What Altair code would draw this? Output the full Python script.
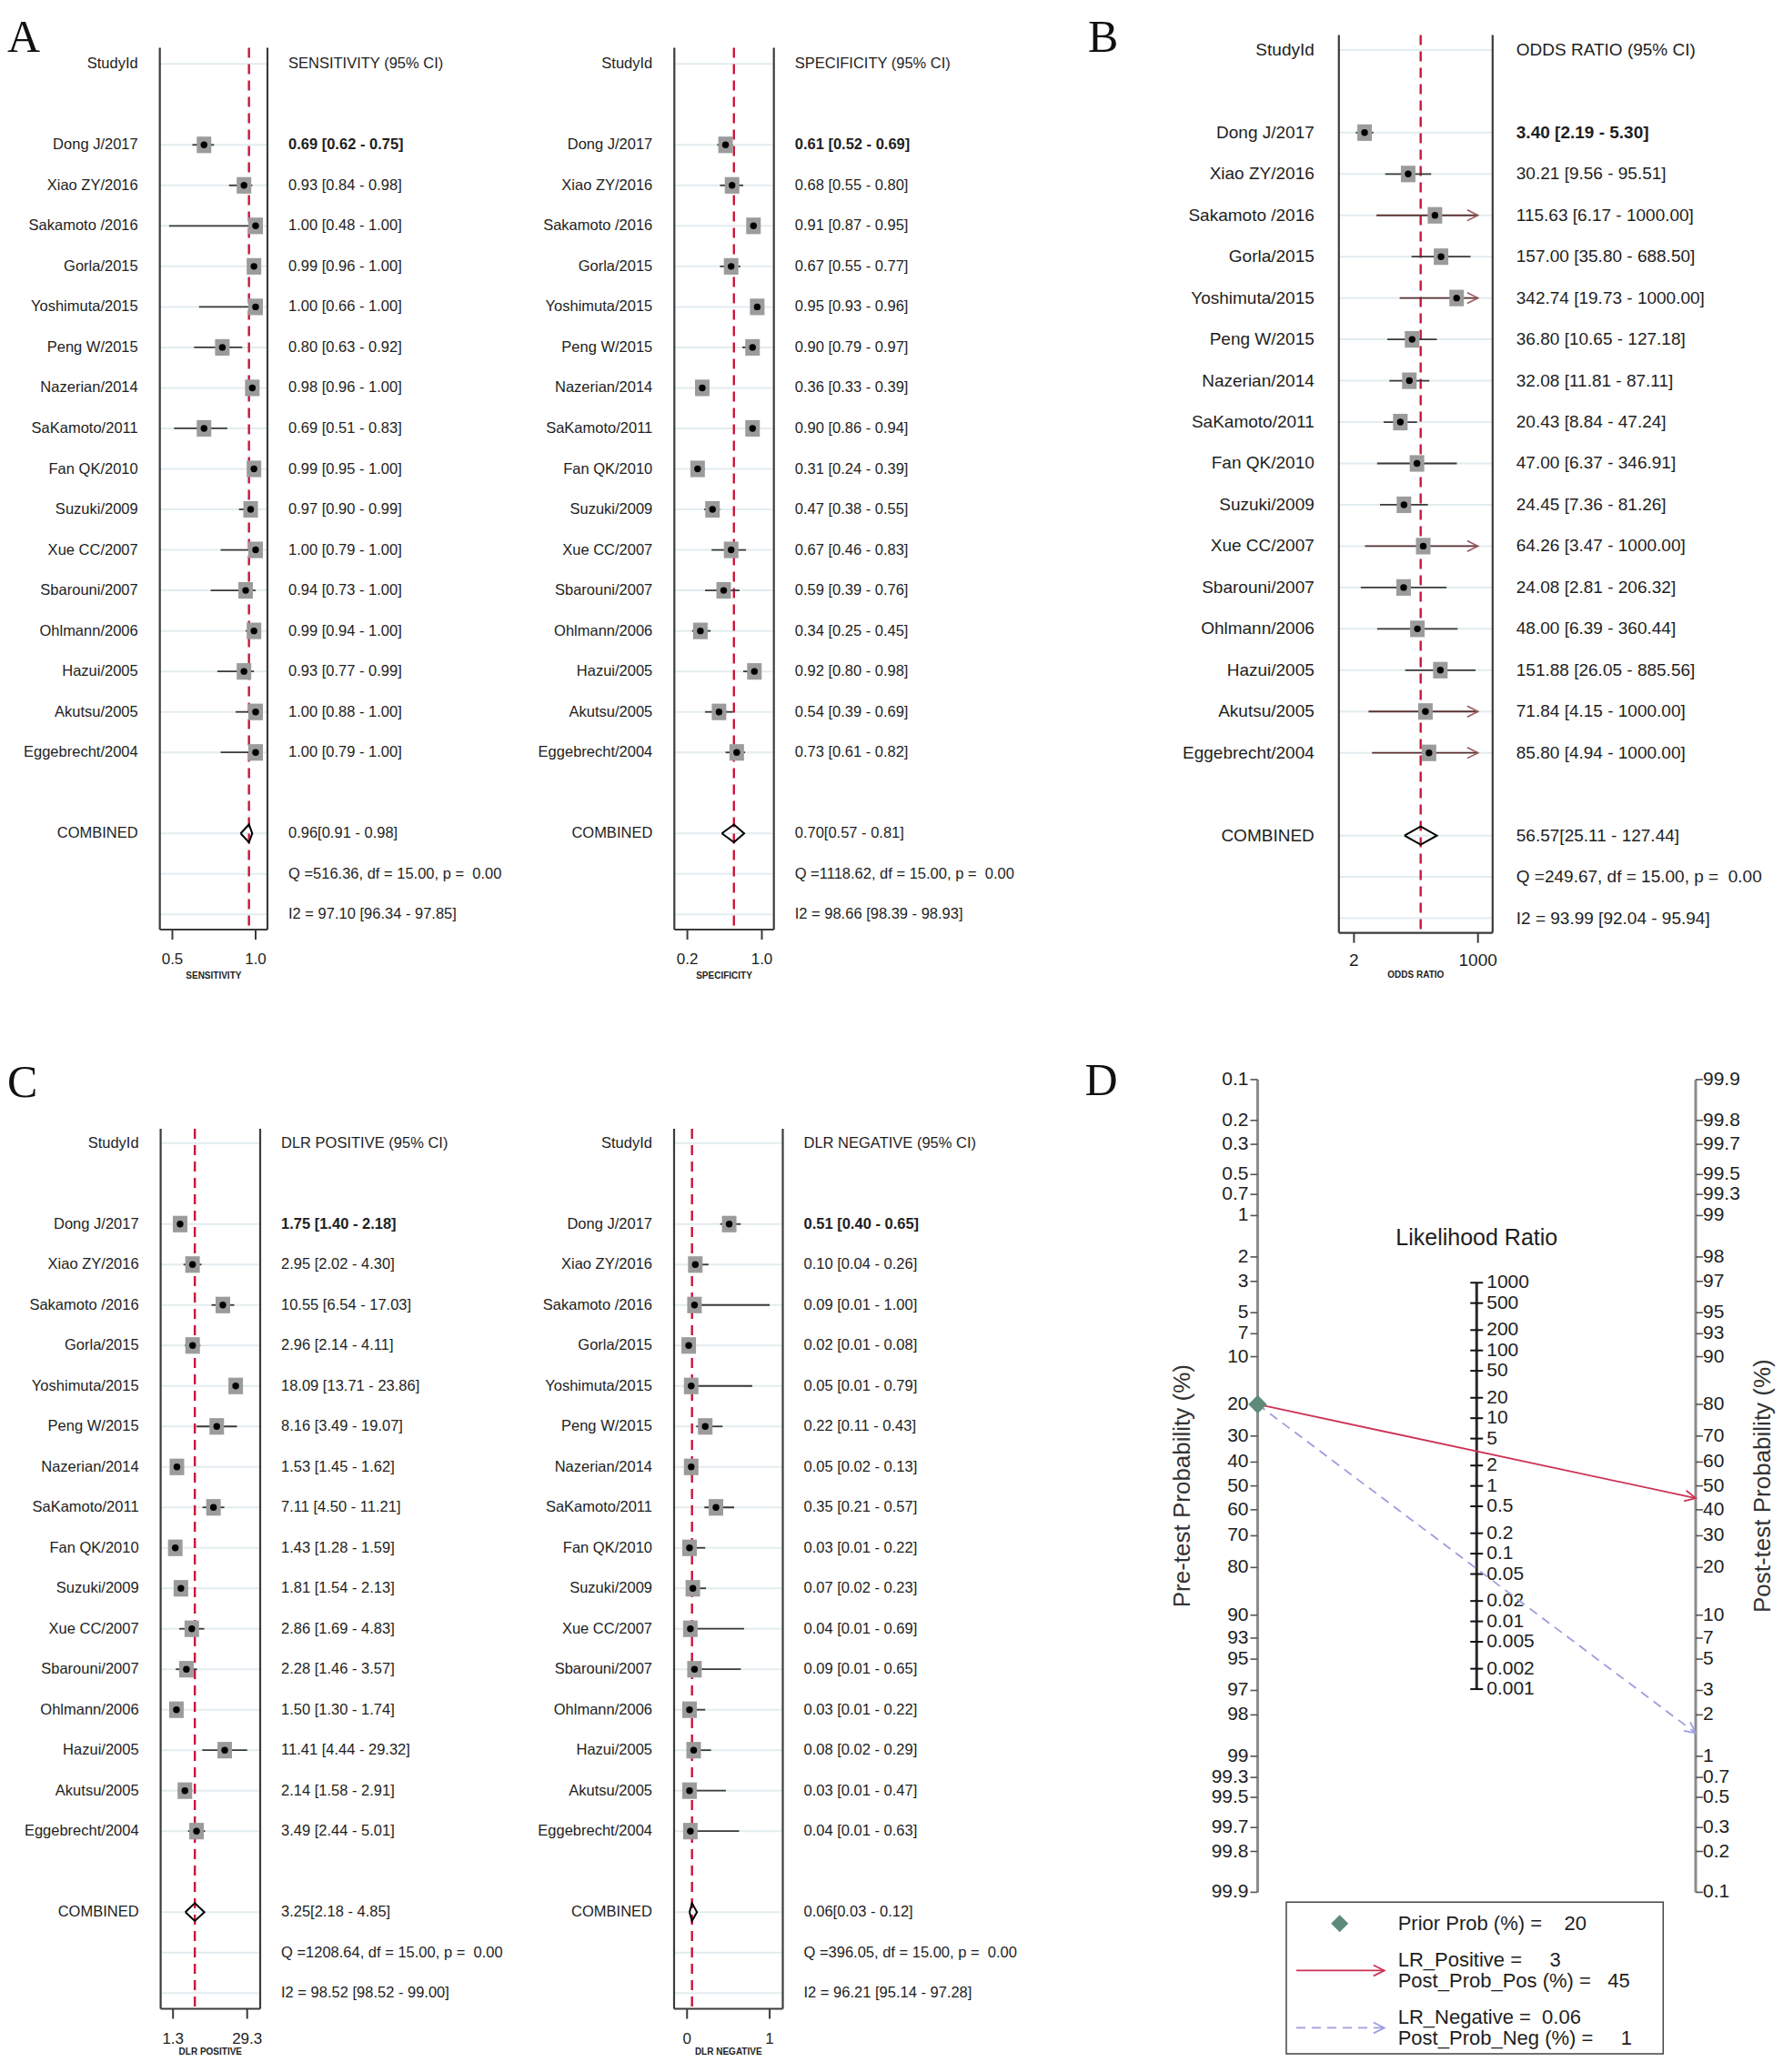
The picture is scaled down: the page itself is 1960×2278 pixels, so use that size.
import math
import re
import altair as alt
import pandas as pd

# ------------------------------------------------------------------ data
studies = ["Dong J/2017", "Xiao ZY/2016", "Sakamoto /2016", "Gorla/2015", "Yoshimuta/2015",
           "Peng W/2015", "Nazerian/2014", "SaKamoto/2011", "Fan QK/2010", "Suzuki/2009",
           "Xue CC/2007", "Sbarouni/2007", "Ohlmann/2006", "Hazui/2005", "Akutsu/2005",
           "Eggebrecht/2004"]

sens_est = [0.69, 0.93, 1.00, 0.99, 1.00, 0.80, 0.98, 0.69, 0.99, 0.97, 1.00, 0.94, 0.99, 0.93, 1.00, 1.00]
sens_lo = [0.62, 0.84, 0.48, 0.96, 0.66, 0.63, 0.96, 0.51, 0.95, 0.90, 0.79, 0.73, 0.94, 0.77, 0.88, 0.79]
sens_hi = [0.75, 0.98, 1.00, 1.00, 1.00, 0.92, 1.00, 0.83, 1.00, 0.99, 1.00, 1.00, 1.00, 0.99, 1.00, 1.00]
sens_pooled = [0.96, 0.91, 0.98]
sens_q = 516.36
sens_i2 = [97.10, 96.34, 97.85]
sens_ticks = [0.5, 1.0]

spec_est = [0.61, 0.68, 0.91, 0.67, 0.95, 0.90, 0.36, 0.90, 0.31, 0.47, 0.67, 0.59, 0.34, 0.92, 0.54, 0.73]
spec_lo = [0.52, 0.55, 0.87, 0.55, 0.93, 0.79, 0.33, 0.86, 0.24, 0.38, 0.46, 0.39, 0.25, 0.80, 0.39, 0.61]
spec_hi = [0.69, 0.80, 0.95, 0.77, 0.96, 0.97, 0.39, 0.94, 0.39, 0.55, 0.83, 0.76, 0.45, 0.98, 0.69, 0.82]
spec_pooled = [0.70, 0.57, 0.81]
spec_q = 1118.62
spec_i2 = [98.66, 98.39, 98.93]
spec_ticks = [0.2, 1.0]

or_est = [3.40, 30.21, 115.63, 157.00, 342.74, 36.80, 32.08, 20.43, 47.00, 24.45, 64.26, 24.08, 48.00, 151.88, 71.84, 85.80]
or_lo = [2.19, 9.56, 6.17, 35.80, 19.73, 10.65, 11.81, 8.84, 6.37, 7.36, 3.47, 2.81, 6.39, 26.05, 4.15, 4.94]
or_hi = [5.30, 95.51, 1000.00, 688.50, 1000.00, 127.18, 87.11, 47.24, 346.91, 81.26, 1000.00, 206.32, 360.44, 885.56, 1000.00, 1000.00]
or_pooled = [56.57, 25.11, 127.44]
or_q = 249.67
or_i2 = [93.99, 92.04, 95.94]
or_cap = 1000.0
or_ticks = [2, 1000]

plr_est = [1.75, 2.95, 10.55, 2.96, 18.09, 8.16, 1.53, 7.11, 1.43, 1.81, 2.86, 2.28, 1.50, 11.41, 2.14, 3.49]
plr_lo = [1.40, 2.02, 6.54, 2.14, 13.71, 3.49, 1.45, 4.50, 1.28, 1.54, 1.69, 1.46, 1.30, 4.44, 1.58, 2.44]
plr_hi = [2.18, 4.30, 17.03, 4.11, 23.86, 19.07, 1.62, 11.21, 1.59, 2.13, 4.83, 3.57, 1.74, 29.32, 2.91, 5.01]
plr_pooled = [3.25, 2.18, 4.85]
plr_q = 1208.64
plr_i2 = [98.52, 98.52, 99.00]
plr_ticks = [1.3, 29.3]

nlr_est = [0.51, 0.10, 0.09, 0.02, 0.05, 0.22, 0.05, 0.35, 0.03, 0.07, 0.04, 0.09, 0.03, 0.08, 0.03, 0.04]
nlr_lo = [0.40, 0.04, 0.01, 0.01, 0.01, 0.11, 0.02, 0.21, 0.01, 0.02, 0.01, 0.01, 0.01, 0.02, 0.01, 0.01]
nlr_hi = [0.65, 0.26, 1.00, 0.08, 0.79, 0.43, 0.13, 0.57, 0.22, 0.23, 0.69, 0.65, 0.22, 0.29, 0.47, 0.63]
nlr_pooled = [0.06, 0.03, 0.12]
nlr_q = 396.05
nlr_i2 = [96.21, 95.14, 97.28]
nlr_ticks = [0, 1]

het_df = 15.00
het_p = 0.00

pre_ticks = [0.1, 0.2, 0.3, 0.5, 0.7, 1, 2, 3, 5, 7, 10, 20, 30, 40, 50, 60, 70, 80, 90, 93, 95,
             97, 98, 99, 99.3, 99.5, 99.7, 99.8, 99.9]
post_ticks = [0.1, 0.2, 0.3, 0.5, 0.7, 1, 2, 3, 5, 7, 10, 20, 30, 40, 50, 60, 70, 80, 90, 93, 95,
              97, 98, 99, 99.3, 99.5, 99.7, 99.8, 99.9]
lr_ticks = [1000, 500, 200, 100, 50, 20, 10, 5, 2, 1, 0.5, 0.2, 0.1, 0.05, 0.02, 0.01, 0.005, 0.002, 0.001]
prior_prob = 20
lr_positive = plr_pooled[0]
lr_negative = nlr_pooled[0]

# ------------------------------------------------------------------ style / layout
W, H = 1944, 2254
OFF = 8          # page margin
R2 = 12          # second row moved up a little so that everything fits

FONT_R = "Liberation Sans, Arial, sans-serif"
FONT_S = "Liberation Serif, Times New Roman, serif"
TXT = "#1e1e1e"
GRID = "#e2ecef"
BOX = "#3c3c3c"
CI = "#3a3a3a"
SQ = "#9b9b9b"
RED = "#c8173c"
MAROON = "#5a3333"
ARROWC = "#9a5a5a"
RED_D = "#cc3355"
PURPLE = "#9d9de0"
TEAL = "#5e8b79"
SQ_PATH = "M-0.88,-1H0.88V1H-0.88Z"
CHEV = "M-1,-0.5L0,0L-1,0.5"


def nb(s):
    return re.sub(r" (?= )", "\u00a0", s)


def ci_text(e, l, h, sep=" "):
    return f"{e:.2f}{sep}[{l:.2f} - {h:.2f}]"


def build_table(est, lo, hi, pooled, q, i2, head):
    rows = [dict(k=0, label="StudyId", val=head, kind="head")]
    for i, s in enumerate(studies):
        rows.append(dict(k=i + 2, label=s, val=ci_text(est[i], lo[i], hi[i]), kind="study",
                         est=est[i], lo=lo[i], hi=hi[i]))
    kc = len(studies) + 3
    rows.append(dict(k=kc, label="COMBINED", val="\u00a0" + ci_text(*pooled, sep=""), kind="comb"))
    rows.append(dict(k=kc + 1, label="", val=nb(f"Q ={q:.2f}, df = {het_df:.2f}, p =  {het_p:.2f}"), kind="stat"))
    rows.append(dict(k=kc + 2, label="", val=f"I2 = {i2[0]:.2f} [{i2[1]:.2f} - {i2[2]:.2f}]", kind="stat"))
    return pd.DataFrame(rows), kc


def forest(est, lo, hi, pooled, q, i2, head, ticks, L, arrows=False):
    tab, kc = build_table(est, lo, hi, pooled, q, i2, head)
    x0, x1 = L["xdom"]
    k0, k1 = L["ydom"]
    xs = alt.Scale(type=L["stype"], domain=[x0, x1], range=[L["xr"][0] - OFF, L["xr"][1] - OFF],
                   nice=False, **({} if L["stype"] == "log" else {"zero": False}))
    ys = alt.Scale(domain=[k0, k1], range=[L["yr"][0] - OFF, L["yr"][1] - OFF], nice=False, zero=False)

    def XD(v):
        return alt.XDatum(v, type="quantitative", scale=xs, axis=None)

    def YD(v):
        return alt.YDatum(v, type="quantitative", scale=ys, axis=None)

    Yk = alt.Y("k:Q", scale=ys, axis=None)
    base = alt.Chart(tab)
    layers = []
    # faint row lines
    layers.append(base.mark_rule(color=GRID, strokeWidth=2).encode(x=XD(x0), x2=alt.X2Datum(x1), y=Yk))
    # box sides and bottom (axis line)
    layers.append(alt.Chart(pd.DataFrame({"e": [x0, x1]})).mark_rule(color=BOX, strokeWidth=2.2).encode(
        x=alt.X("e:Q", scale=xs, axis=None), y=YD(k0), y2=alt.Y2Datum(k1)))
    layers.append(alt.Chart(pd.DataFrame({"e": [k1]})).mark_rule(color=BOX, strokeWidth=2.2).encode(
        x=XD(x0), x2=alt.X2Datum(x1), y=alt.Y("e:Q", scale=ys, axis=None)))
    # axis ticks, tick labels and axis title
    tdf = pd.DataFrame({"t": ticks, "lab": [format(v, L["fmt"]) for v in ticks]})
    layers.append(alt.Chart(tdf).mark_rule(color=BOX, strokeWidth=2, y2Offset=11).encode(
        x=alt.X("t:Q", scale=xs, axis=None), y=YD(k1), y2=alt.Y2Datum(k1)))
    layers.append(alt.Chart(tdf).mark_text(font=FONT_R, fontSize=L["afs"], color=TXT, baseline="middle",
                                           align="center", dy=L["ldy"]).encode(
        x=alt.X("t:Q", scale=xs, axis=None), y=YD(k1), text="lab:N"))
    xmid = math.sqrt(x0 * x1) if L["stype"] == "log" else (x0 + x1) / 2
    layers.append(alt.Chart(pd.DataFrame({"t": [L["title"]]})).mark_text(
        font=FONT_R, fontSize=L["tfs"], fontWeight="bold", color=TXT, baseline="middle", align="center",
        dy=L["tdy"]).encode(x=XD(xmid), y=YD(k1), text="t:N"))
    # pooled estimate line
    layers.append(alt.Chart(pd.DataFrame({"p": [pooled[0]]})).mark_rule(
        color=RED, strokeWidth=2.4, strokeDash=[11, 7]).encode(
        x=alt.X("p:Q", scale=xs, axis=None), y=YD(k0), y2=alt.Y2Datum(k1)))
    st = base.transform_filter("datum.kind == 'study'")
    if arrows:
        ccol = alt.when(f"datum.hi >= {or_cap}").then(alt.value(MAROON)).otherwise(alt.value(CI))
    else:
        ccol = alt.value(CI)
    layers.append(st.mark_rule(strokeWidth=1.8).encode(
        x=alt.X("lo:Q", scale=xs, axis=None), x2="hi:Q", y=Yk, color=ccol))
    layers.append(st.mark_point(shape=SQ_PATH, filled=True, color=SQ, size=L["sq"], opacity=1).encode(
        x=alt.X("est:Q", scale=xs, axis=None), y=Yk))
    layers.append(st.mark_circle(color="black", size=55, opacity=1).encode(
        x=alt.X("est:Q", scale=xs, axis=None), y=Yk))
    if arrows:
        layers.append(st.transform_filter(f"datum.hi >= {or_cap}").mark_point(
            shape=CHEV, filled=False, color=ARROWC, strokeWidth=1.6, size=560, opacity=1).encode(
            x=alt.X("hi:Q", scale=xs, axis=None), y=Yk))
    # pooled diamond
    dh = 0.22
    pe, pl, ph = pooled
    dia = pd.DataFrame({"o": [0, 1, 2, 3, 4], "x": [pl, pe, ph, pe, pl],
                        "y": [kc, kc - dh, kc, kc + dh, kc]})
    layers.append(alt.Chart(dia).mark_line(color="black", strokeWidth=2).encode(
        x=alt.X("x:Q", scale=xs, axis=None), y=alt.Y("y:Q", scale=ys, axis=None), order="o:Q"))
    tf = dict(font=FONT_R, fontSize=L["fs"], color=TXT, baseline="middle")
    layers.append(base.transform_filter("datum.label != ''").mark_text(align="right", dx=L["ldx"], **tf).encode(
        x=XD(x0), y=Yk, text="label:N"))
    layers.append(base.transform_filter("datum.k != 2").mark_text(align="left", dx=L["vdx"], **tf).encode(
        x=XD(x1), y=Yk, text="val:N"))
    layers.append(base.transform_filter("datum.k == 2").mark_text(
        align="left", dx=L["vdx"], fontWeight="bold", **tf).encode(x=XD(x1), y=Yk, text="val:N"))
    return alt.layer(*layers)


rowA = dict(yr=(52.6, 1022.0), ydom=(-0.395, 21.374), ldy=33, tdy=51)
rowB = dict(yr=(38.6, 1025.6), ydom=(-0.3586, 21.353), ldy=30, tdy=46)
rowC = dict(yr=(1252.9 - R2, 2220.5 - R2), ydom=(-0.357, 21.39), ldy=33, tdy=47)
small = dict(fs=16.5, afs=17, tfs=10, ldx=-24, vdx=23, sq=330)

L_sens = dict(rowA, **small, stype="linear", xdom=(0.4246, 1.071), xr=(175.7, 294.0),
              fmt=".1f", title="SENSITIVITY")
L_spec = dict(rowA, **small, stype="linear", xdom=(0.0604, 1.129), xr=(741.3, 850.7),
              fmt=".1f", title="SPECIFICITY")
L_or = dict(rowB, fs=19, afs=19, tfs=10, ldx=-27, vdx=26, sq=330, stype="log",
            xdom=(0.938, 2084.0), xr=(1471.8, 1640.8), fmt="g", title="ODDS RATIO")
L_plr = dict(rowC, **small, stype="log", xdom=(0.773, 50.6), xr=(176.6, 286.0),
             fmt=".1f", title="DLR POSITIVE")
L_nlr = dict(rowC, **small, stype="linear", xdom=(-0.157, 1.159), xr=(741.0, 860.5),
             fmt="g", title="DLR NEGATIVE")

groups = [
    forest(sens_est, sens_lo, sens_hi, sens_pooled, sens_q, sens_i2, "SENSITIVITY (95% CI)", sens_ticks, L_sens),
    forest(spec_est, spec_lo, spec_hi, spec_pooled, spec_q, spec_i2, "SPECIFICITY (95% CI)", spec_ticks, L_spec),
    forest(or_est, or_lo, or_hi, or_pooled, or_q, or_i2, "ODDS RATIO (95% CI)", or_ticks, L_or, arrows=True),
    forest(plr_est, plr_lo, plr_hi, plr_pooled, plr_q, plr_i2, "DLR POSITIVE (95% CI)", plr_ticks, L_plr),
    forest(nlr_est, nlr_lo, nlr_hi, nlr_pooled, nlr_q, nlr_i2, "DLR NEGATIVE (95% CI)", nlr_ticks, L_nlr),
]

# ------------------------------------------------------------------ Fagan nomogram (D)
LIM = math.log(pre_ticks[-1] / (100 - pre_ticks[-1]))
D_X = (1382.5, 1864.0)
D_Y = (1198.9 - R2, 2092.4 - R2)
dxs = alt.Scale(domain=[0, 1], range=[D_X[0] - OFF, D_X[1] - OFF], nice=False, zero=False)
dys = alt.Scale(domain=[-LIM, LIM], range=[D_Y[0] - OFF, D_Y[1] - OFF], nice=False, zero=False)
KY = (D_Y[1] - D_Y[0]) / (2 * LIM)
KX = D_X[1] - D_X[0]


def DXD(v):
    return alt.XDatum(v, type="quantitative", scale=dxs, axis=None)


def DYD(v):
    return alt.YDatum(v, type="quantitative", scale=dys, axis=None)


DY = alt.Y("y:Q", scale=dys, axis=None)
LOGIT = "log(datum.p/(100-datum.p))"
lr_top = -math.log(max(lr_ticks)) / 2
lr_bot = -math.log(min(lr_ticks)) / 2

pre_df = pd.DataFrame({"p": pre_ticks, "lab": [f"{v:g}" for v in pre_ticks]})
post_df = pd.DataFrame({"p": post_ticks, "lab": [f"{v:g}" for v in post_ticks]})
lr_df = pd.DataFrame({"lr": lr_ticks, "lab": [f"{v:g}" for v in lr_ticks]})
dlab = dict(font=FONT_R, fontSize=21, color=TXT, baseline="middle")

d_layers = [
    # axis lines
    alt.Chart(pd.DataFrame({"e": [0, 1]})).mark_rule(color="#8c8c8c", strokeWidth=3).encode(
        x=alt.X("e:Q", scale=dxs, axis=None), y=DYD(-LIM), y2=alt.Y2Datum(LIM)),
    alt.Chart(pd.DataFrame({"e": [0.5]})).mark_rule(color="#2a2a2a", strokeWidth=3).encode(
        x=alt.X("e:Q", scale=dxs, axis=None), y=DYD(lr_top), y2=alt.Y2Datum(lr_bot)),
    # ticks
    alt.Chart(pre_df).transform_calculate(y=LOGIT).mark_rule(
        color="#555555", strokeWidth=1.6, xOffset=-8, x2Offset=0).encode(x=DXD(0), x2=alt.X2Datum(0), y=DY),
    alt.Chart(post_df).transform_calculate(y="-" + LOGIT).mark_rule(
        color="#555555", strokeWidth=1.6, xOffset=0, x2Offset=8).encode(x=DXD(1), x2=alt.X2Datum(1), y=DY),
    alt.Chart(lr_df).transform_calculate(y="-log(datum.lr)/2").mark_rule(
        color="#111111", strokeWidth=2, xOffset=-7, x2Offset=7).encode(x=DXD(0.5), x2=alt.X2Datum(0.5), y=DY),
    # tick labels
    alt.Chart(pre_df).transform_calculate(y=LOGIT).mark_text(align="right", dx=-10, **dlab).encode(
        x=DXD(0), y=DY, text="lab:N"),
    alt.Chart(post_df).transform_calculate(y="-" + LOGIT).mark_text(align="left", dx=8, **dlab).encode(
        x=DXD(1), y=DY, text="lab:N"),
    alt.Chart(lr_df).transform_calculate(y="-log(datum.lr)/2").mark_text(align="left", dx=11, **dlab).encode(
        x=DXD(0.5), y=DY, text="lab:N"),
    # titles
    alt.Chart(pd.DataFrame({"t": ["Likelihood Ratio"]})).mark_text(
        font=FONT_R, fontSize=25, color=TXT, baseline="middle", align="center", dy=-49).encode(
        x=DXD(0.5), y=DYD(lr_top), text="t:N"),
    alt.Chart(pd.DataFrame({"t": ["Pre-test Probability (%)"]})).mark_text(
        font=FONT_R, fontSize=26, color="#333333", baseline="middle", align="center", angle=270,
        xOffset=-82.5).encode(x=DXD(0), y=DYD(0), text="t:N"),
    alt.Chart(pd.DataFrame({"t": ["Post-test Probability (%)"]})).mark_text(
        font=FONT_R, fontSize=26, color="#333333", baseline="middle", align="center", angle=270,
        xOffset=74).encode(x=DXD(1), y=DYD(0), text="t:N"),
]

lines_df = pd.DataFrame({"series": ["pos", "pos", "neg", "neg"], "end": [0, 1, 0, 1],
                         "lr": [lr_positive, lr_positive, lr_negative, lr_negative],
                         "p": [prior_prob] * 4})
line_calc = dict(y=f"datum.end == 0 ? {LOGIT} : -({LOGIT} + log(datum.lr))",
                 ang=f"atan2(-(2*{LOGIT} + log(datum.lr))*{KY}, {KX})*180/PI")
for ser, col, dash in [("pos", RED_D, None), ("neg", PURPLE, [10, 7])]:
    mk = dict(color=col, strokeWidth=1.8)
    if dash:
        mk["strokeDash"] = dash
    src = alt.Chart(lines_df).transform_filter(f"datum.series == '{ser}'").transform_calculate(**line_calc)
    d_layers.append(src.mark_line(**mk).encode(
        x=alt.X("end:Q", scale=dxs, axis=None), y=DY, order="end:Q"))
    d_layers.append(src.transform_filter("datum.end == 1").mark_point(
        shape=CHEV, filled=False, color=col, strokeWidth=1.8, size=560, opacity=1).encode(
        x=alt.X("end:Q", scale=dxs, axis=None), y=DY, angle=alt.Angle("ang:Q", scale=None)))

d_layers.append(alt.Chart(pd.DataFrame({"p": [prior_prob]})).transform_calculate(y=LOGIT).mark_point(
    shape="diamond", filled=True, color=TEAL, size=420, opacity=1).encode(x=DXD(0), y=DY))

# legend of D
prior_odds = prior_prob / (100 - prior_prob)
post_pos = 100 * prior_odds * lr_positive / (1 + prior_odds * lr_positive)
post_neg = 100 * prior_odds * lr_negative / (1 + prior_odds * lr_negative)
entries = [
    ("prior", ["Prior Prob (%) = " + f"{prior_prob:g}".rjust(5)]),
    ("pos", ["LR_Positive = " + f"{round(lr_positive):d}".rjust(5),
             "Post_Prob_Pos (%) = " + f"{round(post_pos):d}".rjust(4)]),
    ("neg", ["LR_Negative = " + f"{lr_negative:.2f}".rjust(5),
             "Post_Prob_Neg (%) = " + f"{round(post_neg):d}".rjust(5)]),
]
LH, GAP = 22.5, 18.0
leg_rows, sym_rows, pos = [], [], 0.0
for key, lines in entries:
    ys_ = []
    for ln in lines:
        leg_rows.append({"ly": pos, "txt": nb(ln)})
        ys_.append(pos)
        pos += LH
    pos += GAP
    sym_rows.append({"key": key, "ly": sum(ys_) / len(ys_)})
leg_df = pd.DataFrame(leg_rows)
sym_df = pd.DataFrame(sym_rows)

LEG_X = (1414.0, 1828.3)
LEG_Y = (2103.3 - R2, 2270.0 - R2)
LEG_W = LEG_X[1] - LEG_X[0]
LEG_TOP, LEG_BOT = -23.4, 143.3
lgx = alt.Scale(domain=[0, LEG_W], range=[LEG_X[0] - OFF, LEG_X[1] - OFF], nice=False, zero=False)
lgy = alt.Scale(domain=[LEG_TOP, LEG_BOT], range=[LEG_Y[0] - OFF, LEG_Y[1] - OFF], nice=False, zero=False)
SYM_X0, SYM_X1, SYM_XC, TXT_X = 11.0, 107.7, 58.7, 122.7


def LXD(v):
    return alt.XDatum(v, type="quantitative", scale=lgx, axis=None)


LY = alt.Y("ly:Q", scale=lgy, axis=None)
leg_layers = [
    alt.Chart(pd.DataFrame({"b": [0]})).mark_rect(fill="white", stroke="#444444", strokeWidth=1.5).encode(
        x=LXD(0), x2=alt.X2Datum(LEG_W),
        y=alt.YDatum(LEG_TOP, type="quantitative", scale=lgy, axis=None), y2=alt.Y2Datum(LEG_BOT)),
    alt.Chart(leg_df).mark_text(align="left", baseline="middle", font=FONT_R, fontSize=22, color=TXT).encode(
        x=LXD(TXT_X), y=LY, text="txt:N"),
    alt.Chart(sym_df).transform_filter("datum.key == 'prior'").mark_point(
        shape="diamond", filled=True, color=TEAL, size=360, opacity=1).encode(x=LXD(SYM_XC), y=LY),
]
for key, col, dash in [("pos", RED_D, None), ("neg", PURPLE, [10, 7])]:
    mk = dict(color=col, strokeWidth=1.8)
    if dash:
        mk["strokeDash"] = dash
    src = alt.Chart(sym_df).transform_filter(f"datum.key == '{key}'")
    leg_layers.append(src.mark_rule(**mk).encode(x=LXD(SYM_X0), x2=alt.X2Datum(SYM_X1), y=LY))
    leg_layers.append(src.mark_point(shape=CHEV, filled=False, color=col, strokeWidth=1.8,
                                     size=560, opacity=1).encode(x=LXD(SYM_X1), y=LY))

groups.append(alt.layer(*d_layers))
groups.append(alt.layer(*leg_layers))

# panel letters
for letter, lx, ly in [("A", 0, 49), ("B", 1188, 49), ("C", 0, 1198), ("D", 1184.5, 1196)]:
    groups.append(alt.Chart(pd.DataFrame({"t": [letter]})).mark_text(
        font=FONT_S, fontSize=50, color="#111111", align="left", baseline="alphabetic").encode(
        text="t:N", x=alt.value(lx), y=alt.value(ly)))

chart = alt.layer(*groups).resolve_scale(x="independent", y="independent").properties(
    width=W, height=H, padding=0, autosize=alt.AutoSizeParams(type="none")
).configure_view(stroke=None)

chart.save("out.html", embed_options={"renderer": "svg", "actions": False})
